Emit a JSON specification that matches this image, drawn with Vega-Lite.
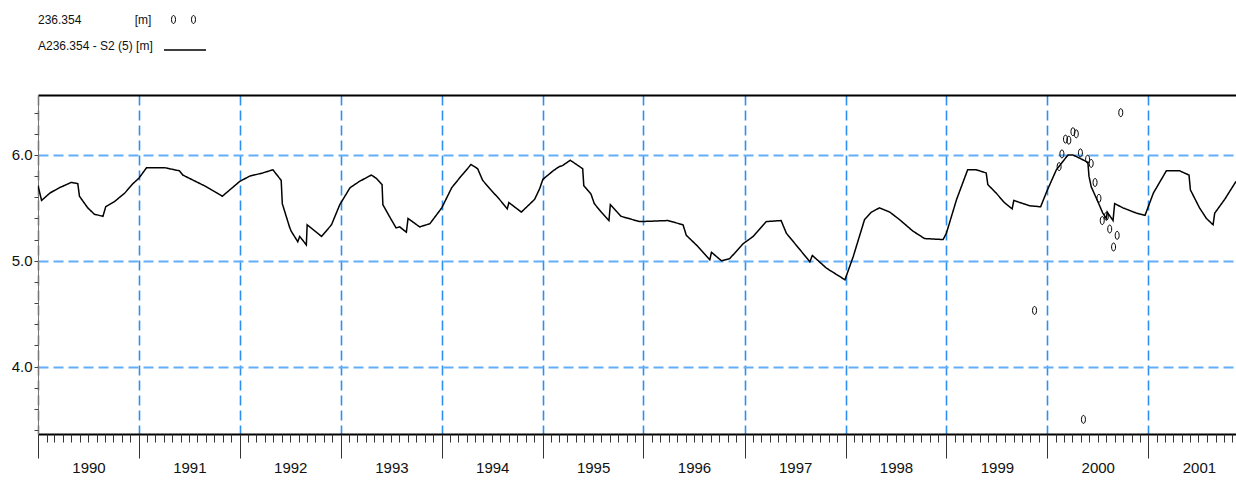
{
  "$schema": "https://vega.github.io/schema/vega-lite/v6.json",
  "width": 1198,
  "height": 339,
  "autosize": {"type": "none"},
  "padding": {"left": 38, "top": 95, "right": 0, "bottom": 51},
  "background": "white",
  "config": {
    "view": {"stroke": null},
    "font": "Liberation Sans",
    "axis": {"title": null, "labelFont": "Liberation Sans", "labelColor": "#111"},
    "legend": {"titleFont": "Liberation Sans", "titleFontSize": 12, "titleFontWeight": "normal", "titleColor": "#111", "padding": 0, "labelFontSize": 1, "titleAnchor": "middle", "titleBaseline": "middle"}
  },
  "datasets": {
    "line": [
      {"date": "1990-01-01", "level": 5.71}, {"date": "1990-01-14", "level": 5.57}, {"date": "1990-02-13", "level": 5.64},
      {"date": "1990-03-19", "level": 5.69}, {"date": "1990-05-01", "level": 5.74}, {"date": "1990-05-25", "level": 5.73},
      {"date": "1990-05-31", "level": 5.61}, {"date": "1990-06-30", "level": 5.50}, {"date": "1990-07-24", "level": 5.44},
      {"date": "1990-08-24", "level": 5.42}, {"date": "1990-09-03", "level": 5.51}, {"date": "1990-10-05", "level": 5.56},
      {"date": "1990-11-11", "level": 5.64}, {"date": "1990-12-11", "level": 5.73}, {"date": "1991-01-01", "level": 5.78},
      {"date": "1991-01-29", "level": 5.88}, {"date": "1991-04-04", "level": 5.88}, {"date": "1991-05-28", "level": 5.85},
      {"date": "1991-06-09", "level": 5.81}, {"date": "1991-09-02", "level": 5.70}, {"date": "1991-10-30", "level": 5.61},
      {"date": "1992-01-01", "level": 5.75}, {"date": "1992-02-06", "level": 5.80}, {"date": "1992-03-24", "level": 5.83},
      {"date": "1992-04-30", "level": 5.86}, {"date": "1992-05-30", "level": 5.76}, {"date": "1992-06-03", "level": 5.54},
      {"date": "1992-06-29", "level": 5.32}, {"date": "1992-07-05", "level": 5.28}, {"date": "1992-07-29", "level": 5.18},
      {"date": "1992-08-05", "level": 5.23}, {"date": "1992-08-29", "level": 5.15}, {"date": "1992-09-01", "level": 5.34},
      {"date": "1992-10-23", "level": 5.23}, {"date": "1992-11-28", "level": 5.34}, {"date": "1992-12-28", "level": 5.53},
      {"date": "1993-02-03", "level": 5.69}, {"date": "1993-03-09", "level": 5.75}, {"date": "1993-04-21", "level": 5.81},
      {"date": "1993-05-09", "level": 5.78}, {"date": "1993-05-30", "level": 5.72}, {"date": "1993-06-02", "level": 5.53},
      {"date": "1993-07-02", "level": 5.39}, {"date": "1993-07-20", "level": 5.31}, {"date": "1993-08-02", "level": 5.32},
      {"date": "1993-08-26", "level": 5.27}, {"date": "1993-09-01", "level": 5.40}, {"date": "1993-10-13", "level": 5.32},
      {"date": "1993-11-19", "level": 5.35}, {"date": "1994-01-01", "level": 5.50}, {"date": "1994-02-06", "level": 5.69},
      {"date": "1994-03-12", "level": 5.80}, {"date": "1994-04-17", "level": 5.91}, {"date": "1994-05-11", "level": 5.87},
      {"date": "1994-05-29", "level": 5.76}, {"date": "1994-06-28", "level": 5.67}, {"date": "1994-07-29", "level": 5.58},
      {"date": "1994-08-26", "level": 5.49}, {"date": "1994-09-01", "level": 5.55}, {"date": "1994-10-16", "level": 5.46},
      {"date": "1994-12-03", "level": 5.58}, {"date": "1994-12-21", "level": 5.68}, {"date": "1995-01-02", "level": 5.77},
      {"date": "1995-02-08", "level": 5.85}, {"date": "1995-03-02", "level": 5.89}, {"date": "1995-03-14", "level": 5.90},
      {"date": "1995-04-11", "level": 5.95}, {"date": "1995-05-26", "level": 5.87}, {"date": "1995-05-30", "level": 5.71},
      {"date": "1995-06-25", "level": 5.63}, {"date": "1995-07-07", "level": 5.54}, {"date": "1995-08-01", "level": 5.46},
      {"date": "1995-08-29", "level": 5.38}, {"date": "1995-09-03", "level": 5.53}, {"date": "1995-10-12", "level": 5.42},
      {"date": "1995-12-18", "level": 5.37}, {"date": "1996-03-29", "level": 5.38}, {"date": "1996-05-23", "level": 5.34},
      {"date": "1996-06-04", "level": 5.24}, {"date": "1996-07-10", "level": 5.15}, {"date": "1996-08-28", "level": 5.01},
      {"date": "1996-09-03", "level": 5.08}, {"date": "1996-10-09", "level": 5.00}, {"date": "1996-11-08", "level": 5.02},
      {"date": "1996-12-26", "level": 5.16}, {"date": "1997-02-01", "level": 5.23}, {"date": "1997-03-20", "level": 5.37},
      {"date": "1997-05-13", "level": 5.38}, {"date": "1997-06-01", "level": 5.26}, {"date": "1997-07-31", "level": 5.07},
      {"date": "1997-08-25", "level": 4.99}, {"date": "1997-09-03", "level": 5.05}, {"date": "1997-10-24", "level": 4.93},
      {"date": "1997-12-30", "level": 4.82}, {"date": "1998-01-29", "level": 5.04}, {"date": "1998-03-11", "level": 5.39},
      {"date": "1998-04-05", "level": 5.46}, {"date": "1998-05-04", "level": 5.50}, {"date": "1998-06-10", "level": 5.46},
      {"date": "1998-07-15", "level": 5.39}, {"date": "1998-09-02", "level": 5.28}, {"date": "1998-10-14", "level": 5.21},
      {"date": "1998-12-20", "level": 5.20}, {"date": "1999-01-01", "level": 5.26}, {"date": "1999-02-07", "level": 5.58},
      {"date": "1999-03-19", "level": 5.86}, {"date": "1999-04-19", "level": 5.86}, {"date": "1999-05-25", "level": 5.83},
      {"date": "1999-05-31", "level": 5.72}, {"date": "1999-06-30", "level": 5.64}, {"date": "1999-07-30", "level": 5.55},
      {"date": "1999-08-27", "level": 5.49}, {"date": "1999-09-02", "level": 5.57}, {"date": "1999-10-29", "level": 5.52},
      {"date": "1999-12-08", "level": 5.51}, {"date": "1999-12-31", "level": 5.66}, {"date": "2000-02-03", "level": 5.86},
      {"date": "2000-03-16", "level": 6.00}, {"date": "2000-04-03", "level": 6.00}, {"date": "2000-04-27", "level": 5.97},
      {"date": "2000-05-27", "level": 5.93}, {"date": "2000-05-31", "level": 5.80}, {"date": "2000-06-08", "level": 5.70},
      {"date": "2000-07-02", "level": 5.56}, {"date": "2000-07-20", "level": 5.45}, {"date": "2000-08-02", "level": 5.40},
      {"date": "2000-08-05", "level": 5.46}, {"date": "2000-08-26", "level": 5.38}, {"date": "2000-09-01", "level": 5.54},
      {"date": "2000-10-01", "level": 5.50}, {"date": "2000-11-19", "level": 5.45}, {"date": "2000-12-20", "level": 5.43},
      {"date": "2001-01-19", "level": 5.64}, {"date": "2001-03-07", "level": 5.85}, {"date": "2001-04-24", "level": 5.85},
      {"date": "2001-05-28", "level": 5.81}, {"date": "2001-06-02", "level": 5.67}, {"date": "2001-07-05", "level": 5.50},
      {"date": "2001-07-30", "level": 5.40}, {"date": "2001-08-23", "level": 5.34}, {"date": "2001-08-29", "level": 5.45},
      {"date": "2001-10-04", "level": 5.58}, {"date": "2001-11-14", "level": 5.75}
    ],
    "points": [
      {"date": "1999-11-16", "level": 4.53}, {"date": "2000-02-13", "level": 5.89}, {"date": "2000-02-23", "level": 6.01},
      {"date": "2000-03-07", "level": 6.15}, {"date": "2000-03-19", "level": 6.14}, {"date": "2000-04-03", "level": 6.22},
      {"date": "2000-04-15", "level": 6.20}, {"date": "2000-04-30", "level": 6.02}, {"date": "2000-05-11", "level": 3.50},
      {"date": "2000-05-26", "level": 5.96}, {"date": "2000-06-08", "level": 5.92}, {"date": "2000-06-22", "level": 5.74},
      {"date": "2000-07-06", "level": 5.59}, {"date": "2000-07-18", "level": 5.38}, {"date": "2000-08-02", "level": 5.42},
      {"date": "2000-08-14", "level": 5.30}, {"date": "2000-08-28", "level": 5.13}, {"date": "2000-09-10", "level": 5.24},
      {"date": "2000-09-23", "level": 6.40}
    ]
  },
  "resolve": {"axis": {"x": "independent", "y": "independent"}},
  "layer": [
    {
      "data": {"name": "line"},
      "mark": {"type": "line", "stroke": "black", "strokeWidth": 1.5, "clip": true},
      "encoding": {
        "x": {
          "field": "date", "type": "temporal",
          "scale": {"type": "utc", "domain": [{"year": 1990, "month": 1, "date": 1, "utc": true}, {"year": 2001, "month": 11, "date": 14, "utc": true}]},
          "axis": {
            "orient": "bottom", "tickCount": {"interval": "year", "step": 1}, "format": "%Y", "formatType": "utc",
            "labelOffset": 50.5, "labelFlush": false, "labelOverlap": false, "labelBound": false,
            "labelFontSize": 15, "labelPadding": 2, "labelBaseline": "top",
            "tickSize": 24, "tickColor": "#333", "tickWidth": 1,
            "domainColor": "black", "domainWidth": 2,
            "grid": true, "gridColor": "#2f8ff0", "gridDash": [10, 5], "gridWidth": 1.6
          }
        },
        "y": {
          "field": "level", "type": "quantitative",
          "scale": {"domain": [3.362, 6.567], "nice": false, "zero": false},
          "axis": {
            "orient": "left", "values": [4, 5, 6], "format": ".1f",
            "labelFontSize": 15, "labelPadding": 2,
            "tickSize": 4, "tickColor": "#444", "domainColor": "#777", "domainWidth": 1,
            "grid": true, "gridColor": "#62aef8", "gridDash": [10, 5], "gridWidth": 2
          }
        },
        "strokeDash": {
          "datum": "A236.354 - S2 (5) [m]", "type": "nominal",
          "scale": {"range": [[1, 0]]},
          "legend": {
            "orient": "none", "legendX": 0, "legendY": -67, "title": "A236.354 - S2 (5) [m]", "titleOrient": "left",
            "titleBaseline": "top",
            "labelExpr": "''", "symbolType": "stroke", "symbolSize": 1764, "symbolStrokeWidth": 1.5,
            "symbolStrokeColor": "black", "titlePadding": 10
          }
        }
      }
    },
    {
      "data": {"name": "points"},
      "mark": {"type": "point", "filled": false, "stroke": "black", "strokeWidth": 1, "size": 64},
      "encoding": {
        "x": {
          "field": "date", "type": "temporal",
          "axis": {"orient": "bottom", "tickCount": {"interval": "month", "step": 1}, "labels": false, "domain": false, "grid": false, "tickSize": 8, "tickColor": "#333"}
        },
        "y": {
          "field": "level", "type": "quantitative",
          "axis": {"orient": "left", "values": [3.4, 3.6, 3.8, 4.2, 4.4, 4.6, 4.8, 5.2, 5.4, 5.6, 5.8, 6.2, 6.4], "labels": false, "domain": false, "grid": false, "tickSize": 4, "tickColor": "#444"}
        },
        "shape": {
          "datum": "marker", "type": "nominal",
          "scale": {"range": ["M0,-1A0.5,1,0,1,1,0,1A0.5,1,0,1,1,0,-1Z"]},
          "legend": null
        },
        "opacity": {
          "datum": "236.354", "type": "nominal",
          "scale": {"range": [1]},
          "legend": {
            "orient": "none", "legendX": 0, "legendY": -90,
            "title": "236.354\u00a0\u00a0\u00a0\u00a0\u00a0\u00a0\u00a0\u00a0\u00a0\u00a0\u00a0\u00a0\u00a0\u00a0\u00a0\u00a0[m]", "titleOrient": "left",
            "titleBaseline": "top",
            "labelExpr": "''", "symbolSize": 784, "symbolStrokeColor": "black", "symbolStrokeWidth": 1, "symbolFillColor": "transparent",
            "symbolType": "M-0.714,-0.286A0.143,0.286,0,1,1,-0.714,0.286A0.143,0.286,0,1,1,-0.714,-0.286ZM0.714,-0.286A0.143,0.286,0,1,1,0.714,0.286A0.143,0.286,0,1,1,0.714,-0.286Z",
            "titlePadding": 17
          }
        }
      }
    },
    {
      "data": {"name": "line"},
      "mark": {"type": "line", "strokeOpacity": 0, "clip": true},
      "encoding": {
        "x": {"field": "date", "type": "temporal", "axis": {"orient": "top", "labels": false, "ticks": false, "grid": false, "domainColor": "black", "domainWidth": 2}},
        "y": {"field": "level", "type": "quantitative", "axis": null}
      }
    }
  ]
}
